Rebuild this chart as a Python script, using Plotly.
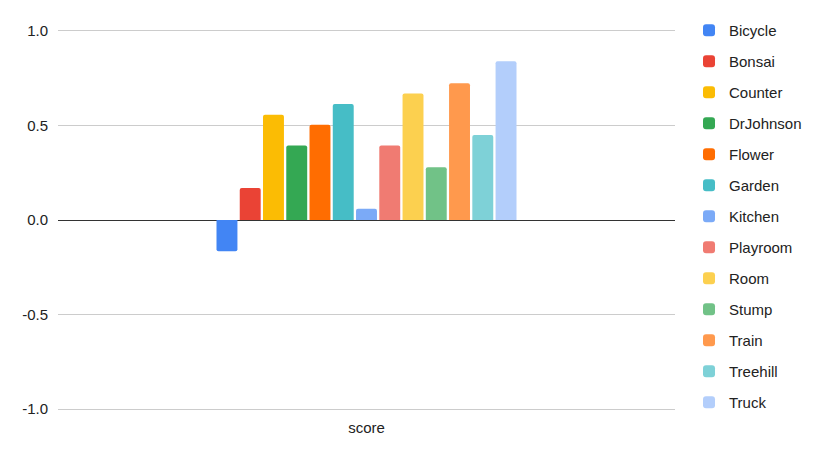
import plotly.graph_objects as go

category = ["score"]
series_names = ["Bicycle", "Bonsai", "Counter", "DrJohnson", "Flower", "Garden", "Kitchen",
                "Playroom", "Room", "Stump", "Train", "Treehill", "Truck"]
series_values = [-0.165, 0.169, 0.557, 0.394, 0.504, 0.614, 0.060,
                 0.394, 0.669, 0.279, 0.723, 0.449, 0.839]
colors = ["#4285F4", "#EA4335", "#FBBC04", "#34A853", "#FF6D01", "#46BDC6", "#7BAAF7",
          "#F07B72", "#FCD04F", "#71C287", "#FF994D", "#7ED1D7", "#B3CEFB"]
y_ticks = [-1.0, -0.5, 0.0, 0.5, 1.0]

fig = go.Figure()
for name, val, col in zip(series_names, series_values, colors):
    fig.add_trace(go.Bar(x=category, y=[val], name=name, marker_color=col,
                         marker_line_width=0, legendgroup=name))

fig.update_layout(
    width=822, height=450,
    margin=dict(l=50, r=155, t=21, b=47, autoexpand=False),
    paper_bgcolor="white", plot_bgcolor="white",
    barmode="group", bargap=0.51, bargroupgap=0.1, barcornerradius=2,
    font=dict(family="Arial, Liberation Sans, sans-serif", size=15, color="#222222"),
    yaxis=dict(range=[-1.01, 1.01], tickvals=y_ticks, ticktext=[f"{v:.1f}" for v in y_ticks],
               showgrid=True, gridcolor="#cccccc", gridwidth=1,
               zeroline=True, zerolinecolor="#333333", zerolinewidth=1,
               ticks="", ticklen=0, showline=False, fixedrange=True,
               ticklabelstandoff=9, tickfont=dict(size=15)),
    xaxis=dict(showgrid=False, showline=False, ticks="", fixedrange=True,
               ticklabelstandoff=6, tickfont=dict(size=15)),
    legend=dict(x=1.0227, y=1.039, xanchor="left", yanchor="top",
                traceorder="grouped", tracegroupgap=8.5, maxheight=445,
                font=dict(size=15, color="#222222")),
    showlegend=True,
)
fig.write_html("out.html")
